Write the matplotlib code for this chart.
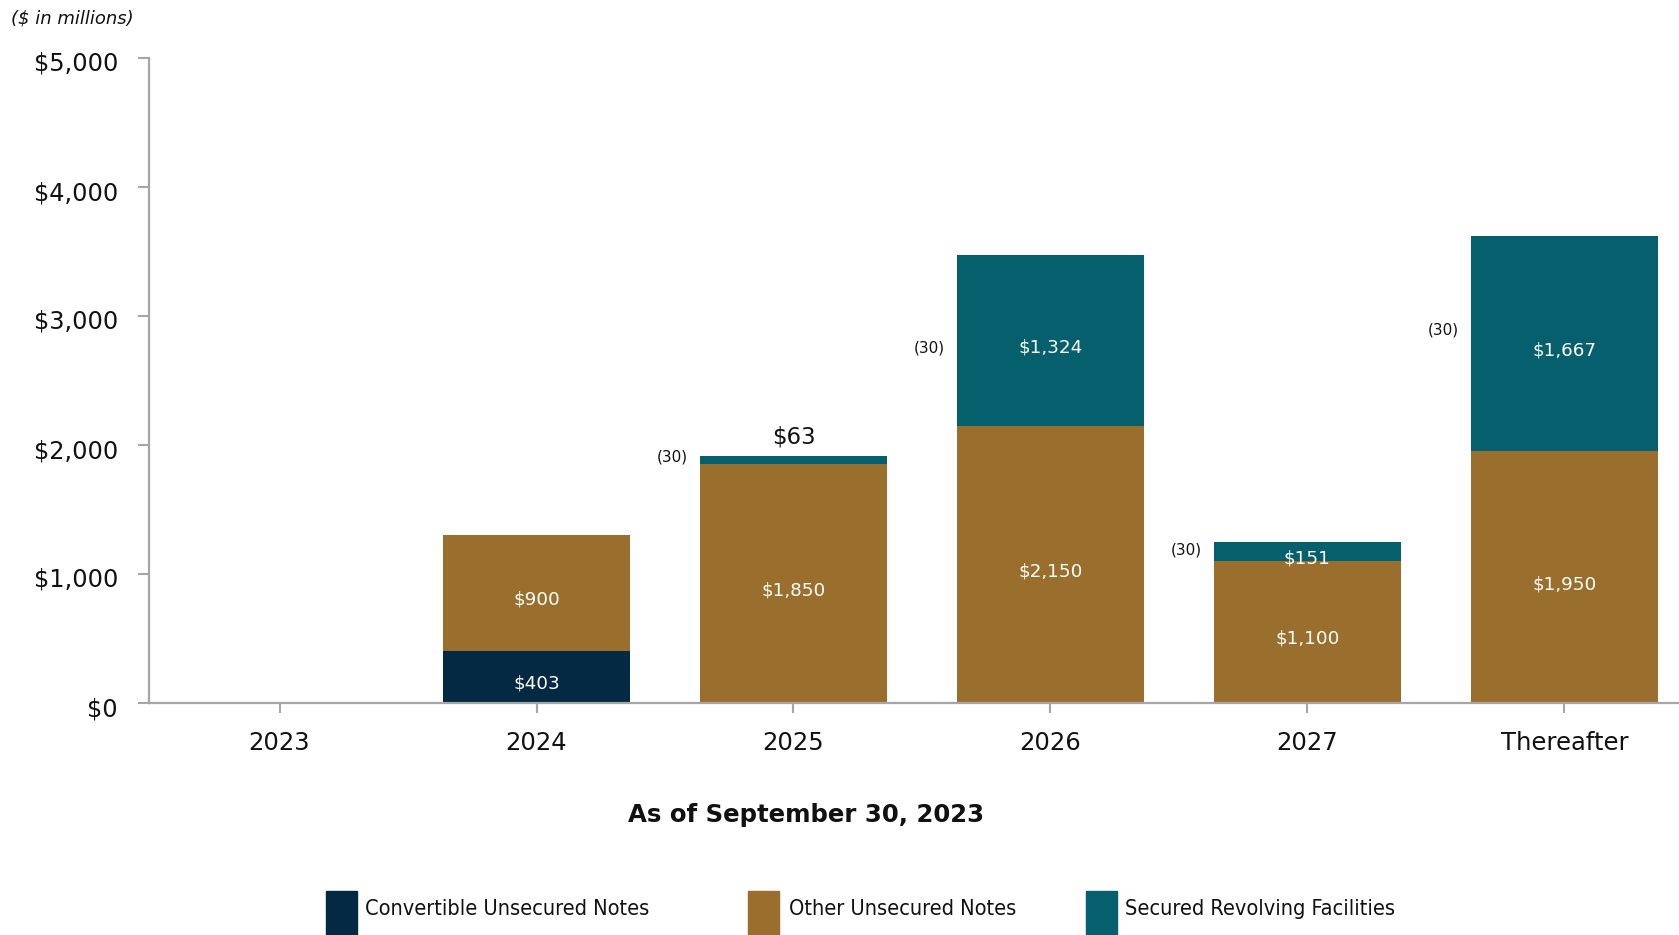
import matplotlib
matplotlib.use("Agg")
import matplotlib.pyplot as plt
from matplotlib.patches import Rectangle
from matplotlib.transforms import ScaledTranslation
import numpy as np

categories = ["2023", "2024", "2025", "2026", "2027", "Thereafter"]
convertible = [0, 403, 0, 0, 0, 0]
other = [0, 900, 1850, 2150, 1100, 1950]
secured = [0, 0, 63, 1324, 151, 1667]
series_names = ["Convertible Unsecured Notes", "Other Unsecured Notes", "Secured Revolving Facilities"]
colors = ["#032a42", "#9a6f2d", "#055f6d"]
yticks = [0, 1000, 2000, 3000, 4000, 5000]
ytick_labels = ["$0", "$1,000", "$2,000", "$3,000", "$4,000", "$5,000"]
adj_idx = [2, 3, 4, 5]
adj_text = ["(30)", "(30)", "(30)", "(30)"]
adj_y = [1910, 2750, 1183, 2890]

plt.rcParams['font.family'] = ['DejaVu Sans']

fig = plt.figure(figsize=(16.79, 9.35), dpi=100)
ax = fig.add_axes([149/1679, 1-703/935, 1-149/1679, (703-58)/935])

x = np.arange(len(categories))
w = 0.728
bottom = np.zeros(len(categories))
for vals, col in zip([convertible, other, secured], colors):
    v = np.array(vals, dtype=float)
    ax.bar(x, v, w, bottom=bottom, color=col, zorder=2)
    bottom += v

# segment labels
b = np.zeros(len(categories))
for vals in [convertible, other, secured]:
    for i, val in enumerate(vals):
        if val > 0 and not (val < 100 and i == 2):
            ax.annotate(f"${val:,}", (x[i], b[i] + val/2), xytext=(0, -5), textcoords="offset points",
                        ha="center", va="center", color="white", fontsize=13.2)
    b += np.array(vals)

# small top label for 2025 secured
ax.annotate(f"${secured[2]}", (x[2], bottom[2]), xytext=(0, 14), textcoords="offset points",
            ha="center", va="center", color="#111111", fontsize=16.5)

for i, t, yy in zip(adj_idx, adj_text, adj_y):
    ax.text(x[i] - w/2 - 0.048, yy, t, ha="right", va="center", fontsize=11, color="#111111")

ax.set_xlim(-0.508, 5.446)
ax.set_ylim(0, 5000)
ax.set_xticks(x)
ax.set_xticklabels(categories, fontsize=17.5)
ax.set_yticks(yticks)
ax.set_yticklabels([])
ytrans = ax.get_yaxis_transform() + ScaledTranslation(-0.31, -0.06, fig.dpi_scale_trans)
for yv, lab in zip(yticks, ytick_labels):
    ax.text(0, yv, lab, transform=ytrans, ha="right", va="center", fontsize=17.3, color="#111111",
            clip_on=False)

for s in ["top", "right"]:
    ax.spines[s].set_visible(False)
for s in ["left", "bottom"]:
    ax.spines[s].set_color("#a6a6a6")
    ax.spines[s].set_linewidth(1.6)
ax.tick_params(axis="y", length=8, width=1.5, color="#a6a6a6")
ax.tick_params(axis="x", length=7, width=1.5, color="#a6a6a6", pad=13.5, labelcolor="#111111")

fig.text(11/1679, 1-19/935, "($ in millions)", fontsize=13, style="italic", ha="left", va="center", color="#111111")
fig.text(806/1679, 1-815/935, "As of September 30, 2023", fontsize=17.6, fontweight="bold", ha="center", va="center", color="#111111")

# legend
patch_x = [326, 748, 1086]
text_x = [365, 789, 1125]
for px, tx, name, col in zip(patch_x, text_x, series_names, colors):
    fig.patches.append(Rectangle((px/1679, 0), 31/1679, 44/935, transform=fig.transFigure, color=col))
    fig.text(tx/1679, 1-909/935, name, fontsize=15.6, ha="left", va="center", color="#111111",
             fontstretch="condensed")

fig.savefig("out.png", dpi=100)
